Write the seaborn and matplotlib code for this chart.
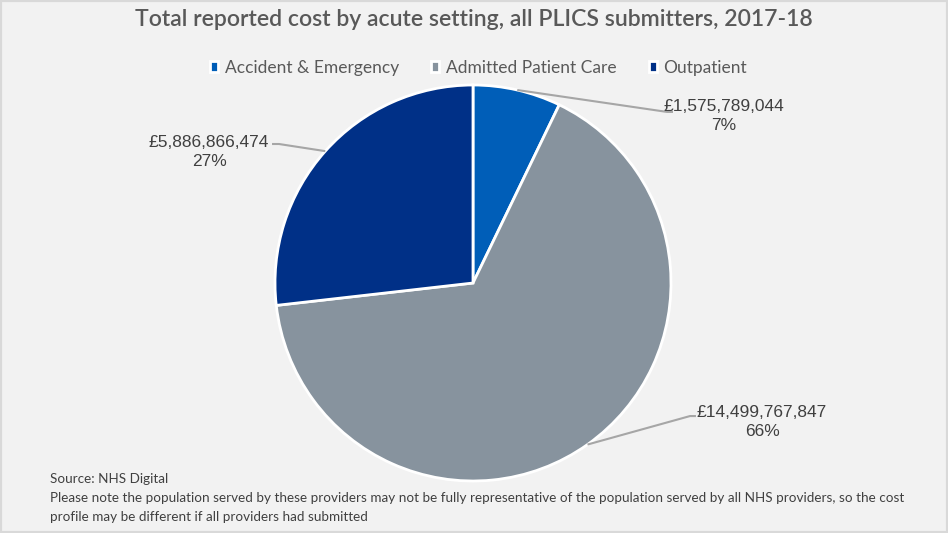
import numpy as np
import matplotlib
matplotlib.use("Agg")
import matplotlib.pyplot as plt
import seaborn as sns
from matplotlib.patches import Rectangle


TITLE = "Total reported cost by acute setting, all PLICS submitters, 2017-18"
settings = ["Accident & Emergency", "Admitted Patient Care", "Outpatient"]
costs = [1575789044, 14499767847, 5886866474]
colours = ["#005EB8", "#87939E", "#003087"]
footer = [
    "Source: NHS Digital",
    "Please note the population served by these providers may not be fully representative of the population "
    "served by all NHS providers, so the cost",
    "profile may be different if all providers had submitted",
]

# label placement (data units, pie radius = 1): text centre, elbow x, side
label_pos = [(1.268, 0.843, 0.980, "left"), (1.460, -0.702, 1.096, "left"), (-1.333, 0.662, -0.980, "right")]
elbow_y = [0.864, -0.672, 0.702]

sns.set_theme(style="white")
plt.rcParams["font.family"] = ["Lato", "DejaVu Sans"]

W, H = 948, 533
fig = plt.figure(figsize=(W / 100, H / 100), dpi=100, facecolor="#F2F2F2")
fig.patches.append(Rectangle((0, 0), 1, 1, transform=fig.transFigure, fill=False,
                             edgecolor="#D9D9D9", linewidth=3))

cx, cy, r = 473, 283, 198
ax = fig.add_axes([(cx - r) / W, (H - cy - r) / H, 2 * r / W, 2 * r / H])
ax.set_facecolor("none")

wedges, _ = ax.pie(costs, colors=colours, startangle=90, counterclock=False,
                   wedgeprops=dict(edgecolor="white", linewidth=2))
ax.set_xlim(-1, 1)
ax.set_ylim(-1, 1)
ax.set_aspect("equal")
ax.axis("off")

total = sum(costs)
for w, val, (tx, ty, ex, side), ey in zip(wedges, costs, label_pos, elbow_y):
    mid = np.deg2rad((w.theta1 + w.theta2) / 2)
    px, py = np.cos(mid), np.sin(mid)
    end_x = ex + (0.03 if side == "left" else -0.035)
    ax.plot([px, ex, end_x], [py, ey, ey], color="#A6A6A6", linewidth=1.5,
            clip_on=False, solid_capstyle="butt")
    ax.text(tx, ty, f"£{val:,.0f}\n{val / total:.0%}", ha="center", va="center",
            fontsize=12.5, color="#404040", family="Liberation Sans",
            linespacing=1.3, clip_on=False)

fig.text(0.5, 1 - 19 / H, TITLE, ha="center", va="center", fontsize=16.6,
         color="#595959", fontweight="semibold")

fig.legend(wedges, settings, loc="center", bbox_to_anchor=(0.505, 1 - 68 / H), ncol=3,
           frameon=False, fontsize=12.5, handlelength=0.45, handleheight=0.6,
           handletextpad=0.4, columnspacing=1.85, labelcolor="#595959")

for i, line in enumerate(footer):
    fig.text(50 / W, 1 - (479 + i * 19) / H, line, ha="left", va="center",
             fontsize=9.7, color="#404040")

fig.savefig("out.png", dpi=100, facecolor=fig.get_facecolor())
